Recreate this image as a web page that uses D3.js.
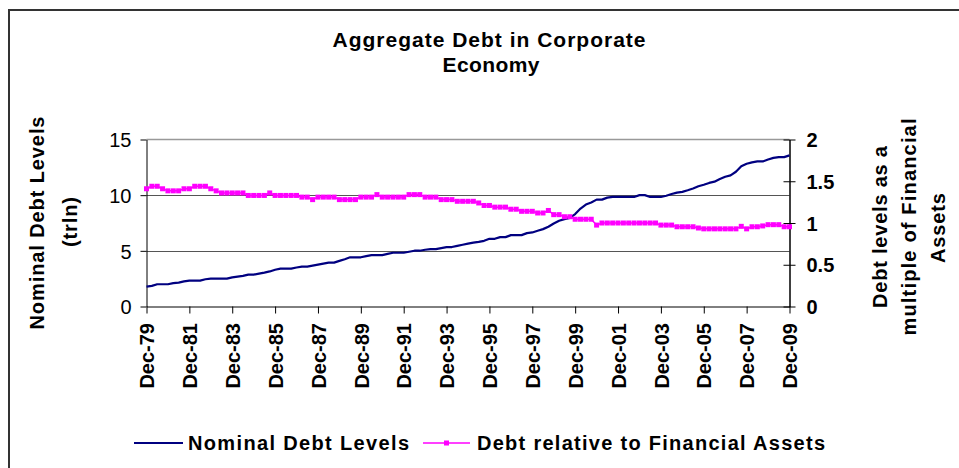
<!DOCTYPE html>
<html>
<head>
<meta charset="utf-8">
<script src="https://cdn.jsdelivr.net/npm/d3@7"></script>
<style>
  body { margin: 0; background: #fff; }
  svg { display: block; }
  text { font-family: Arial, "Liberation Sans", sans-serif; fill: #000; }
</style>
</head>
<body>
<svg id="chart" width="959" height="468"></svg>
<script>
// Quarterly series, Dec-79 .. Dec-09 (121 quarters)
const nominalDebt = [
  1.79, 1.85, 2.00, 2.00, 2.00, 2.10, 2.15, 2.25, 2.33, 2.33,
  2.33, 2.45, 2.51, 2.51, 2.51, 2.51, 2.62, 2.69, 2.75, 2.86,
  2.86, 2.95, 3.04, 3.15, 3.30, 3.40, 3.40, 3.40, 3.50, 3.58,
  3.58, 3.67, 3.76, 3.85, 3.94, 3.94, 4.10, 4.25, 4.42, 4.42,
  4.42, 4.52, 4.62, 4.62, 4.62, 4.72, 4.83, 4.83, 4.83, 4.92,
  5.01, 5.01, 5.10, 5.16, 5.16, 5.25, 5.34, 5.34, 5.45, 5.55,
  5.65, 5.73, 5.80, 5.90, 6.08, 6.08, 6.23, 6.23, 6.41, 6.41,
  6.41, 6.59, 6.65, 6.80, 6.95, 7.16, 7.45, 7.70, 7.85, 7.96,
  8.30, 8.80, 9.16, 9.35, 9.60, 9.60, 9.78, 9.84, 9.84, 9.84,
  9.84, 9.84, 10.00, 10.00, 9.84, 9.84, 9.84, 9.95, 10.10, 10.23,
  10.30, 10.44, 10.60, 10.80, 10.94, 11.10, 11.21, 11.45, 11.65, 11.78,
  12.10, 12.60, 12.82, 12.95, 13.03, 13.03, 13.20, 13.35, 13.42, 13.42,
  13.57
];

const debtToAssets = [
  1.41, 1.44, 1.44, 1.41, 1.385, 1.385, 1.385, 1.41, 1.41, 1.44,
  1.44, 1.44, 1.41, 1.385, 1.36, 1.36, 1.36, 1.36, 1.36, 1.33,
  1.33, 1.33, 1.33, 1.36, 1.33, 1.33, 1.33, 1.33, 1.33, 1.31,
  1.31, 1.28, 1.31, 1.31, 1.31, 1.31, 1.28, 1.28, 1.28, 1.28,
  1.31, 1.31, 1.31, 1.34, 1.31, 1.31, 1.31, 1.31, 1.31, 1.34,
  1.34, 1.34, 1.31, 1.31, 1.31, 1.28, 1.28, 1.28, 1.26, 1.26,
  1.26, 1.26, 1.24, 1.21, 1.21, 1.19, 1.19, 1.19, 1.165, 1.165,
  1.14, 1.14, 1.14, 1.12, 1.12, 1.15, 1.10, 1.10, 1.075, 1.075,
  1.045, 1.045, 1.045, 1.045, 0.975, 1.00, 1.00, 1.00, 1.00, 1.00,
  1.00, 1.00, 1.00, 1.00, 1.00, 1.00, 0.975, 0.975, 0.975, 0.955,
  0.955, 0.955, 0.955, 0.94, 0.93, 0.93, 0.93, 0.93, 0.93, 0.93,
  0.93, 0.96, 0.93, 0.955, 0.955, 0.965, 0.98, 0.98, 0.98, 0.955,
  0.955
];

const tickLabels = [
  "Dec-79", "Dec-81", "Dec-83", "Dec-85", "Dec-87", "Dec-89", "Dec-91", "Dec-93",
  "Dec-95", "Dec-97", "Dec-99", "Dec-01", "Dec-03", "Dec-05", "Dec-07", "Dec-09"
];
const leftTicks = [0, 5, 10, 15];
const rightTicks = [0, 0.5, 1, 1.5, 2];
const seriesNames = ["Nominal Debt Levels", "Debt relative to Financial Assets"];

// Quarter category labels from Dec-79 to Dec-09
const quarterMonths = ["Mar", "Jun", "Sep", "Dec"];
const quarters = [];
for (let yr = 1979; yr <= 2009; yr++) {
  for (const m of quarterMonths) {
    if (yr === 1979 && m !== "Dec") continue;
    quarters.push(m + "-" + String(yr % 100).padStart(2, "0"));
  }
}

const svg = d3.select("#chart");
const plot = { left: 146.5, right: 789.5, top: 139.5, bottom: 306.5 };

const x = d3.scalePoint().domain(quarters).range([plot.left, plot.right]);
const yL = d3.scaleLinear().domain([0, 15]).range([plot.bottom, plot.top]);
const yR = d3.scaleLinear().domain([0, 2]).range([plot.bottom, plot.top]);

// Chart area frame
svg.append("path")
  .attr("d", "M9,470 V10 H962")
  .attr("fill", "none").attr("stroke", "#333").attr("stroke-width", 2);

// Title
const title = svg.append("g").attr("font-weight", "bold").attr("font-size", 21).attr("text-anchor", "middle");
title.append("text").attr("x", 489).attr("y", 47).attr("textLength", 313).attr("lengthAdjust", "spacing")
  .text("Aggregate Debt in Corporate");
title.append("text").attr("x", 491).attr("y", 72).attr("textLength", 97).attr("lengthAdjust", "spacing")
  .text("Economy");

// Gridlines
svg.append("g").selectAll("line").data([5, 10]).join("line")
  .attr("x1", plot.left).attr("x2", plot.right)
  .attr("y1", d => Math.round(yL(d)) + 0.5).attr("y2", d => Math.round(yL(d)) + 0.5)
  .attr("stroke", "#555").attr("stroke-width", 1);
svg.append("line")
  .attr("x1", plot.left).attr("x2", plot.right)
  .attr("y1", yL(15)).attr("y2", yL(15))
  .attr("stroke", "#999").attr("stroke-width", 1.5);

// Left axis
const gL = svg.append("g").attr("transform", `translate(${plot.left},0)`)
  .call(d3.axisLeft(yL).tickValues(leftTicks).tickFormat(d3.format("d")).tickSize(6).tickSizeOuter(0).tickPadding(9));
gL.select(".domain").attr("stroke", "#000");
gL.selectAll(".tick line").attr("stroke", "#000");
gL.selectAll(".tick text").attr("font-size", 20).attr("font-family", null).attr("dy", "0.36em");

// Right axis (ticks cross the axis line)
const gR = svg.append("g").attr("transform", `translate(${plot.right},0)`)
  .call(d3.axisRight(yR).tickValues(rightTicks).tickFormat(d => String(d)).tickSize(6).tickSizeOuter(0));
gR.select(".domain").attr("stroke", "#000").attr("stroke-width", 1.5);
gR.selectAll(".tick line").attr("stroke", "#000").attr("x1", -6).attr("x2", 6);
gR.selectAll(".tick text").attr("x", 17).attr("font-size", 20).attr("font-weight", "bold")
  .attr("font-family", null).attr("dy", "0.36em");

// Bottom category axis
const tickCats = quarters.filter(q => tickLabels.includes(q));
const gB = svg.append("g").attr("transform", `translate(0,${plot.bottom})`)
  .call(d3.axisBottom(x).tickValues(tickCats).tickSize(7).tickSizeOuter(0));
gB.select(".domain").attr("stroke", "#000");
gB.selectAll(".tick line").attr("stroke", "#000");
gB.selectAll(".tick text")
  .attr("transform", "rotate(-90)")
  .attr("x", -16.5).attr("y", 0).attr("dy", "0.36em")
  .attr("text-anchor", "end")
  .attr("font-size", 20).attr("font-weight", "bold").attr("font-family", null);

// Axis titles
const axT = svg.append("g").attr("font-weight", "bold").attr("font-size", 20).attr("text-anchor", "middle");
[["Nominal Debt Levels", 37, 223, 213], ["(trln)", 70, 222, 50]].forEach(([t, cx, cy, len]) => {
  axT.append("text").attr("transform", `translate(${cx},${cy}) rotate(-90)`).attr("dy", "0.36em")
    .attr("textLength", len).attr("lengthAdjust", "spacing").text(t);
});
[["Debt levels as a", 880, 227, 162], ["multiple of Financial", 909, 227, 217], ["Assets", 938, 228, 70]]
  .forEach(([t, cx, cy, len]) => {
    axT.append("text").attr("transform", `translate(${cx},${cy}) rotate(-90)`).attr("dy", "0.36em")
      .attr("textLength", len).attr("lengthAdjust", "spacing").text(t);
  });

// Series: nominal debt (left axis)
svg.append("path").datum(nominalDebt)
  .attr("fill", "none").attr("stroke", "#000080").attr("stroke-width", 2.2)
  .attr("stroke-linejoin", "round")
  .attr("d", d3.line().x((d, i) => x(quarters[i])).y(d => yL(d)));

// Series: debt relative to financial assets (right axis) with square markers
svg.append("path").datum(debtToAssets)
  .attr("fill", "none").attr("stroke", "#FF00FF").attr("stroke-width", 1.5)
  .attr("d", d3.line().x((d, i) => x(quarters[i])).y(d => yR(d)));
svg.append("g").selectAll("rect").data(debtToAssets).join("rect")
  .attr("x", (d, i) => x(quarters[i]) - 2.5).attr("y", d => yR(d) - 2.5)
  .attr("width", 5).attr("height", 5).attr("fill", "#FF00FF");

// Legend
const lg = svg.append("g").attr("font-weight", "bold").attr("font-size", 20);
const ly = 443;
lg.append("line").attr("x1", 134).attr("x2", 183).attr("y1", ly).attr("y2", ly)
  .attr("stroke", "#000080").attr("stroke-width", 2.2);
lg.append("text").attr("x", 188).attr("y", ly).attr("dy", "0.36em")
  .attr("textLength", 221).attr("lengthAdjust", "spacing").text(seriesNames[0]);
lg.append("line").attr("x1", 423).attr("x2", 470).attr("y1", ly).attr("y2", ly)
  .attr("stroke", "#FF00FF").attr("stroke-width", 1.5);
lg.append("rect").attr("x", 444).attr("y", ly - 2.5).attr("width", 5).attr("height", 5).attr("fill", "#FF00FF");
lg.append("text").attr("x", 477).attr("y", ly).attr("dy", "0.36em")
  .attr("textLength", 348).attr("lengthAdjust", "spacing").text(seriesNames[1]);
</script>
</body>
</html>
